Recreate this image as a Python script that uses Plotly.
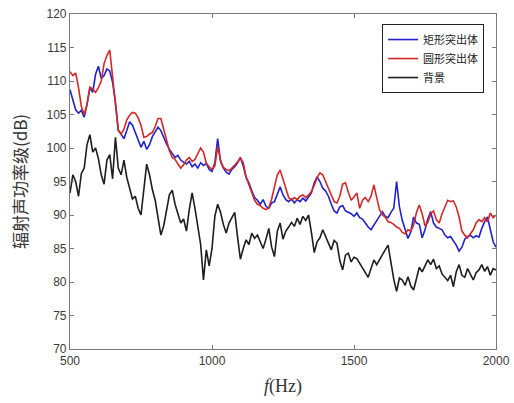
import plotly.graph_objects as go

freq = list(range(500, 2001, 10))

rect_vals = [
    108.7, 107.0, 105.7, 105.2, 105.6, 104.6, 106.5, 109.0, 108.3, 111.0,
    112.2, 110.4, 110.8, 111.8, 111.5, 109.8, 106.8, 102.7, 102.0, 101.4,
    102.6, 103.9, 103.4, 102.2, 101.3, 100.1, 101.0, 99.8, 100.5, 101.7,
    102.4, 103.1, 102.6, 101.5, 100.6, 99.8, 99.2, 98.6, 98.9, 98.2,
    97.9, 97.6, 98.0, 97.2, 97.6, 97.0, 97.8, 97.4, 97.7, 96.8,
    96.5, 97.8, 101.4, 98.0, 97.0, 96.4, 96.1, 96.8, 97.2, 97.8,
    98.6, 97.3, 95.6, 94.8, 93.6, 92.6, 92.2, 91.6, 92.3, 91.3,
    91.0, 91.8, 92.0, 93.0, 94.2, 93.0, 92.3, 92.0, 92.4, 91.8,
    92.3, 92.0, 92.5, 92.1, 92.7, 93.3, 94.8, 95.7, 95.0, 94.0,
    93.6, 92.8, 91.6, 90.6, 90.3, 91.2, 91.4, 90.6, 90.4, 90.2,
    89.8, 90.3, 89.6, 89.4, 88.8, 88.2, 87.8, 88.5, 89.3, 90.0,
    90.5, 89.8, 89.6, 90.4, 91.0, 95.0, 91.2, 89.2, 88.0, 86.5,
    87.5, 89.7, 88.8, 88.6, 86.6, 87.8, 89.4, 90.5, 88.8, 88.2,
    88.0, 87.8, 87.0, 86.6, 86.8, 86.2, 85.5, 84.6, 85.2, 86.4,
    86.8, 87.0, 86.6, 86.9, 86.7, 88.0, 89.0, 89.7, 88.0, 86.0,
    85.2,
]

round_vals = [
    111.4, 110.8, 111.2, 109.0, 106.2, 105.0, 106.5, 109.1, 108.8, 108.3,
    109.0, 110.0, 112.6, 113.8, 114.6, 110.4, 107.0, 102.6, 102.1, 102.8,
    104.2, 104.9, 105.3, 105.2, 104.5, 103.4, 101.6, 101.7, 102.1, 102.3,
    103.2, 104.4, 104.4, 102.8, 100.8, 99.6, 98.6, 98.3, 97.6, 97.0,
    97.5, 98.2, 98.6, 98.0, 98.3, 99.2, 100.0, 99.4, 97.7, 97.2,
    96.8, 97.3, 100.2, 98.2, 97.1, 96.8, 96.6, 97.0, 97.4, 97.9,
    98.5, 97.8, 95.7, 94.5, 93.3, 92.2, 91.6, 91.4, 91.0, 90.8,
    91.1, 92.4, 94.2, 96.0, 96.7, 95.4, 94.0, 92.6, 92.2, 92.6,
    92.3, 92.8, 93.0, 92.6, 93.0, 93.5, 94.4, 95.6, 96.3, 96.0,
    95.0, 94.0, 92.8, 92.0, 91.8, 92.8, 94.6, 94.8, 93.4, 92.2,
    92.7, 93.3, 91.0, 92.2, 92.6, 92.0, 92.8, 94.5, 92.6, 90.8,
    90.0, 89.7, 89.0, 88.9, 88.6, 88.2, 88.0, 87.4, 87.2, 87.8,
    87.6, 88.5, 90.4, 91.5, 90.2, 88.4, 88.9, 90.2, 90.6, 89.3,
    88.8, 90.2, 91.2, 92.2, 92.0, 92.1, 91.2, 89.7, 87.6, 87.0,
    86.6, 87.2, 87.8, 88.8, 89.3, 89.0, 89.6, 89.0, 90.3, 89.6,
    90.0,
]

bg_vals = [
    93.3, 96.0, 95.0, 92.8, 96.2, 97.0, 100.5, 102.0, 99.4, 100.0,
    98.4, 96.0, 94.6, 98.2, 99.0, 95.4, 101.6, 97.0, 96.0, 98.2,
    95.6, 94.0, 92.4, 92.8, 91.0, 90.0, 93.5, 97.6, 96.0, 93.8,
    92.2, 89.8, 87.0, 88.4, 90.6, 93.0, 93.7, 91.6, 90.2, 88.8,
    89.4, 87.6, 90.8, 93.3, 91.0, 88.4, 85.6, 80.3, 84.8, 82.4,
    85.0, 89.8, 91.6, 90.4, 88.6, 87.3, 88.8, 89.6, 90.4, 86.7,
    83.4, 85.0, 86.3, 85.6, 87.3, 86.5, 87.0, 86.0, 85.0, 86.4,
    88.0, 85.2, 83.8, 87.6, 88.8, 86.4, 87.6, 88.2, 88.9, 88.3,
    89.5, 88.6, 89.8, 89.2, 90.0, 87.4, 84.4, 86.0, 86.6, 87.8,
    86.8, 85.6, 84.8, 86.2, 85.8, 83.2, 81.8, 84.0, 84.3, 83.0,
    83.7, 83.5, 82.8, 82.2, 81.4, 80.7, 82.0, 83.3, 82.6, 83.4,
    84.0, 84.8, 85.5, 83.0, 80.4, 78.6, 80.6, 80.3, 79.5, 80.8,
    79.4, 78.8, 80.5, 82.2, 81.5, 82.3, 83.3, 82.6, 83.4, 82.0,
    82.4, 81.2, 80.7, 80.2, 81.0, 79.3, 81.5, 82.6, 81.0, 80.7,
    82.0, 81.2, 80.3, 81.4, 81.8, 82.6, 81.6, 82.3, 81.0, 82.0,
    81.8,
]

series_names = ["矩形突出体", "圆形突出体", "背景"]
x_ticks = [500, 1000, 1500, 2000]
y_ticks = [70, 75, 80, 85, 90, 95, 100, 105, 110, 115, 120]

fig = go.Figure()
for name, vals, color in [
    (series_names[0], rect_vals, "#2222cc"),
    (series_names[1], round_vals, "#d42828"),
    (series_names[2], bg_vals, "#1e1e1e"),
]:
    fig.add_trace(go.Scatter(x=freq, y=vals, mode="lines", name=name,
                             line=dict(color=color, width=1.6)))

axis_common = dict(
    showgrid=False, zeroline=False, showline=True, linecolor="#7a7a7a",
    linewidth=1.2, mirror="ticks", ticks="inside", ticklen=4,
    tickcolor="#7a7a7a", automargin=False,
    tickfont=dict(family="Liberation Sans, Arial", size=12, color="#3a3a3a"),
)

fig.update_layout(
    width=514, height=403,
    margin=dict(l=70, r=18, t=14, b=54),
    paper_bgcolor="white", plot_bgcolor="white",
    showlegend=True,
    legend=dict(
        x=0.972, y=0.97, xanchor="right", yanchor="top",
        bordercolor="#222", borderwidth=1, bgcolor="white",
        font=dict(family="Noto Sans CJK SC", size=11, color="#222"),
        tracegroupgap=0, itemwidth=30,
    ),
    xaxis=dict(range=[500, 2000], tickvals=x_ticks, **axis_common,
               title=dict(text="<i>f</i>(Hz)", standoff=12,
                          font=dict(family="Liberation Serif", size=18, color="#333"))),
    yaxis=dict(range=[70, 120], tickvals=y_ticks, **axis_common,
               title=dict(text="辐射声功率级(dB)", standoff=14,
                          font=dict(family="Noto Sans CJK SC", size=17, color="#333"))),
)

fig.write_html("out.html")
